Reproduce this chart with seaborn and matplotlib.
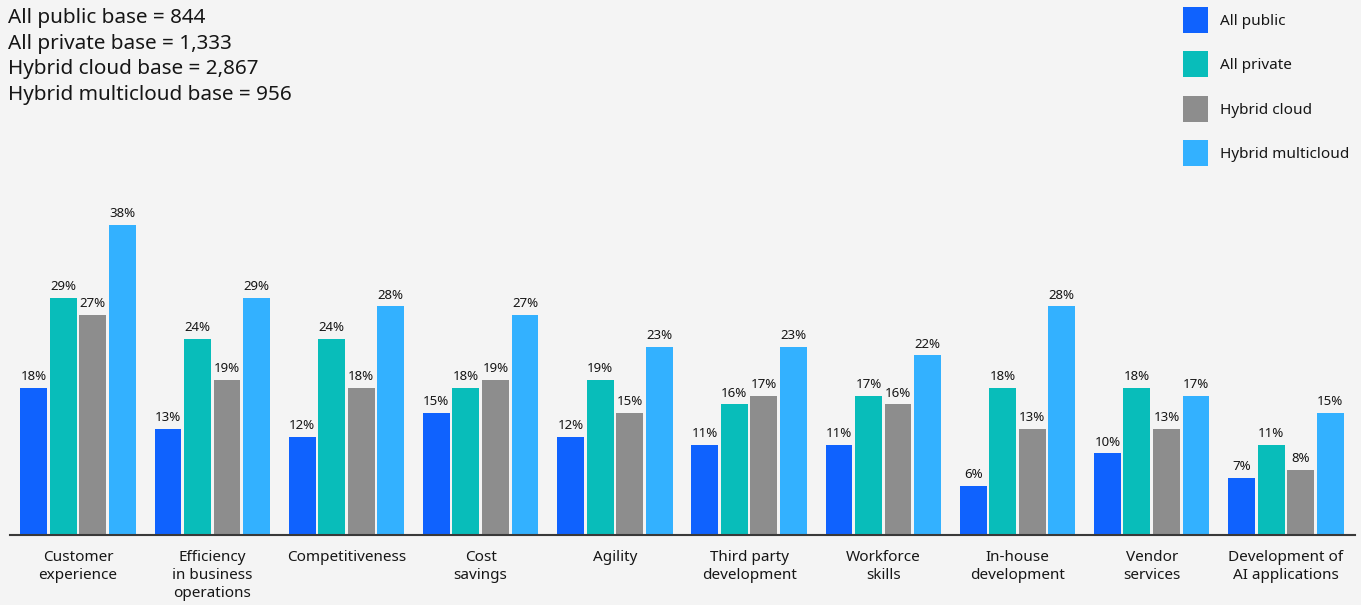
import matplotlib
matplotlib.use("Agg")
import matplotlib.pyplot as plt
import seaborn as sns
import pandas as pd

categories = ["Customer\nexperience", "Efficiency\nin business\noperations", "Competitiveness",
              "Cost\nsavings", "Agility", "Third party\ndevelopment", "Workforce\nskills",
              "In-house\ndevelopment", "Vendor\nservices", "Development of\nAI applications"]
series = ["All public", "All private", "Hybrid cloud", "Hybrid multicloud"]
all_public = [18, 13, 12, 15, 12, 11, 11, 6, 10, 7]
all_private = [29, 24, 24, 18, 19, 16, 17, 18, 18, 11]
hybrid_cloud = [27, 19, 18, 19, 15, 17, 16, 13, 13, 8]
hybrid_multicloud = [38, 29, 28, 27, 23, 23, 22, 28, 17, 15]
colors = ["#0f62fe", "#08bdba", "#8d8d8d", "#33b1ff"]
base_text = "All public base = 844\nAll private base = 1,333\nHybrid cloud base = 2,867\nHybrid multicloud base = 956"

values = [all_public, all_private, hybrid_cloud, hybrid_multicloud]
rows = []
for s, vals in zip(series, values):
    for c, v in zip(categories, vals):
        rows.append({"category": c, "series": s, "value": v})
df = pd.DataFrame(rows)

sns.set_theme(style="white")
plt.rcParams["font.family"] = ["Noto Sans", "DejaVu Sans"]
bg = "#f4f4f4"
textc = "#161616"

W, H = 1361, 605
fig = plt.figure(figsize=(W / 100, H / 100), dpi=100, facecolor=bg)
ax_left, ax_right, ax_bottom, ax_top = 10, 1355, 535, 166
ax = fig.add_axes([ax_left / W, 1 - ax_bottom / H, (ax_right - ax_left) / W, (ax_bottom - ax_top) / H])
ax.set_facecolor(bg)

sns.barplot(data=df, x="category", y="value", hue="series", order=categories,
            hue_order=series, palette=colors, width=0.88, gap=0.09,
            saturation=1, linewidth=0, ax=ax, legend=True)

for cont in ax.containers:
    ax.bar_label(cont, fmt="%d%%", padding=3.5, fontsize=9.5, color=textc)

ax.set_xlim(-0.507, 9.515)
ax.set_ylim(0, 45.2)
ax.set_xlabel("")
ax.set_ylabel("")
ax.set_yticks([])
for sp in ["top", "right", "left"]:
    ax.spines[sp].set_visible(False)
ax.spines["bottom"].set_color("#393939")
ax.spines["bottom"].set_linewidth(1.5)
ax.tick_params(axis="x", length=0, pad=11, labelsize=11, labelcolor=textc)
for t in ax.get_xticklabels():
    t.set_linespacing(1.27)

handles, labels = ax.get_legend_handles_labels()
ax.get_legend().remove()
fig.legend(handles, labels, loc="upper left", bbox_to_anchor=(1183 / W, 1 - 7 / H),
           bbox_transform=fig.transFigure, frameon=False, borderpad=0, borderaxespad=0,
           fontsize=11, handlelength=1.64, handleheight=2.24, labelspacing=1.21,
           handletextpad=0.75, labelcolor=textc)

fig.text(8 / W, 1 - 8 / H, base_text, ha="left", va="top", fontsize=14.9,
         color=textc, linespacing=1.38)

fig.savefig("out.png", dpi=100, facecolor=bg)
